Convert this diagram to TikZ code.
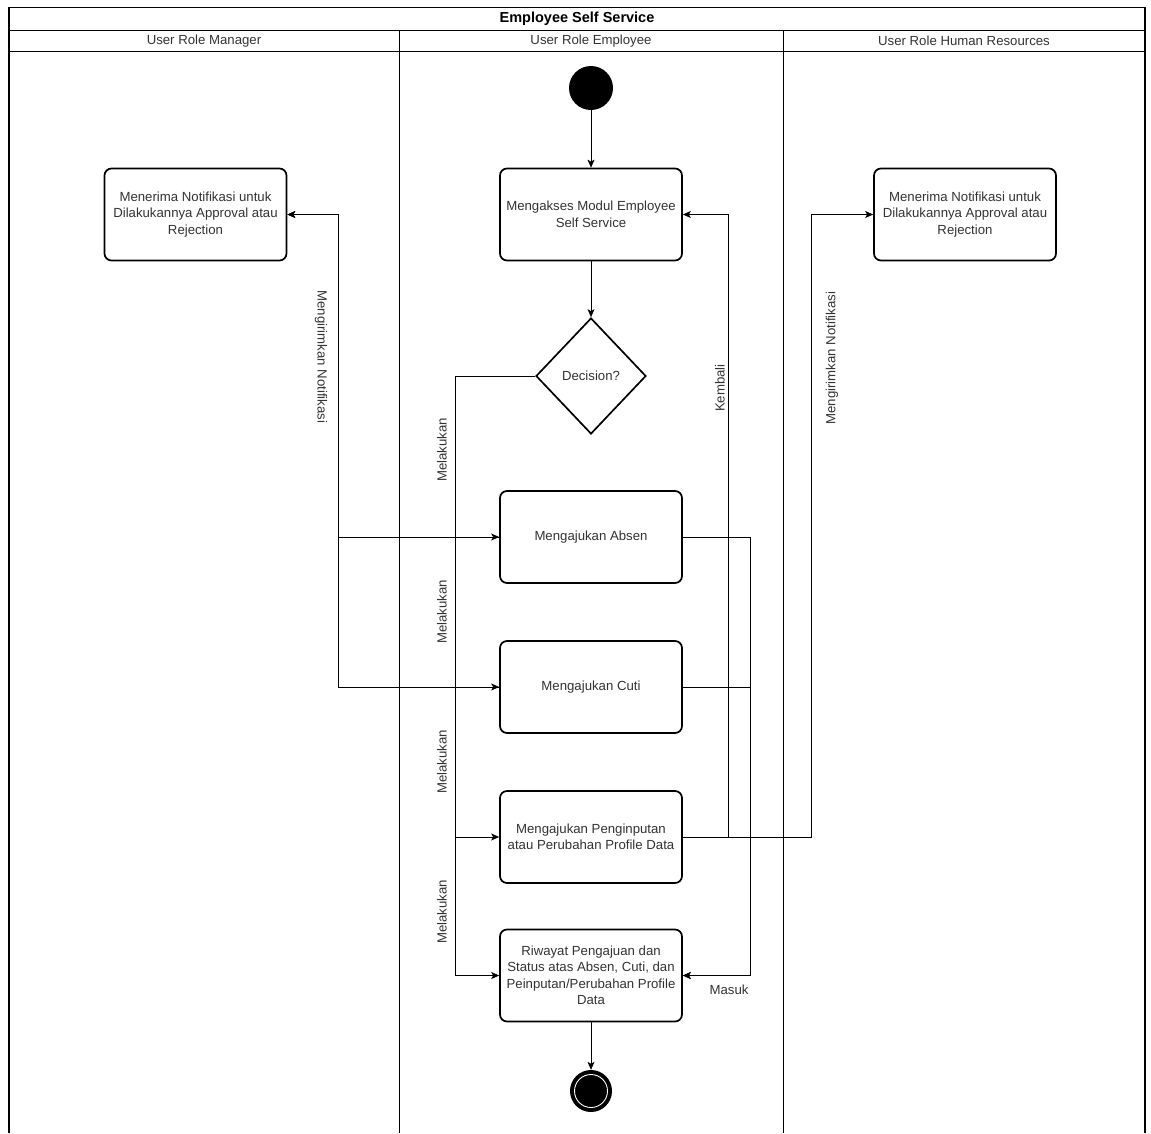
\documentclass[tikz,border=0pt]{standalone}
\usepackage{fontspec}
\setmainfont{Liberation Sans}
\usetikzlibrary{arrows.meta,shapes.geometric}
\definecolor{txtgray}{HTML}{333333}
\begin{document}
\begin{tikzpicture}[x=1pt,y=-1pt,
  txt/.style={font=\fontsize{13.2}{16.5}\selectfont, text=txtgray},
  act/.style={txt, draw=black, line width=1.7pt, rounded corners=7pt, fill=white,
    minimum width=182pt, minimum height=92pt, align=center, inner sep=2pt},
  flow/.style={draw=black, line width=0.8pt, -{Stealth[length=8pt,width=7pt,inset=2pt]}},
  ln/.style={draw=black, line width=0.8pt},
  lane/.style={draw=black, line width=0.8pt},
  lbl/.style={txt, inner sep=1pt}
]
\useasboundingbox (0,0) rectangle (1151,1133);
\fill[white] (0,0) rectangle (1151,1133);

% pool frame
\draw[lane, line width=1.2pt] (9,1133) -- (9,7.5) -- (1145,7.5) -- (1145,1133);
\draw[lane] (9,30.5) -- (1145,30.5);
\draw[lane] (9,51.5) -- (1145,51.5);
\draw[lane] (399,30.5) -- (399,1133);
\draw[lane] (783.5,30.5) -- (783.5,1133);
\node[font=\bfseries\fontsize{14.5}{16}\selectfont, text=black] (title) at (577,19) {Employee Self Service};
\node[txt] (h1) at (204,41) {User Role Manager};
\node[txt] (h2) at (591,41) {User Role Employee};
\node[txt] (h3) at (964,41) {User Role Human Resources};

% nodes
\node[circle, fill=black, minimum size=44pt, inner sep=0pt] (start) at (591,88) {};
\node[act] (akses) at (591,214.5) {Mengakses Modul Employee\\Self Service};
\node[txt, diamond, draw=black, line width=1.7pt, fill=white, minimum width=110pt, minimum height=116pt, inner sep=0pt] (dec) at (591,376) {Decision?};
\node[act] (absen) at (591,537) {Mengajukan Absen};
\node[act] (cuti) at (591,687) {Mengajukan Cuti};
\node[act] (input) at (591,837) {Mengajukan Penginputan\\atau Perubahan Profile Data};
\node[act] (riwayat) at (591,975.5) {Riwayat Pengajuan dan\\Status atas Absen, Cuti, dan\\Peinputan/Perubahan Profile\\Data};
\node[act] (mgr) at (195.5,214.5) {Menerima Notifikasi untuk\\Dilakukannya Approval atau\\Rejection};
\node[act] (hr) at (965,214.5) {Menerima Notifikasi untuk\\Dilakukannya Approval atau\\Rejection};
\node[circle, fill=black, minimum size=42pt, inner sep=0pt] (end) at (591,1091) {};
\draw[white, line width=0.9pt] (end.center) circle (16.5pt);

% routing points
\coordinate (lx) at (455,376);
\coordinate (mx) at (338,214.5);
\coordinate (kx) at (728,214.5);
\coordinate (rx) at (750,975.5);
\coordinate (hx) at (811,214.5);

% manager notifications
\draw[flow] (absen.west) -| (mx) -- (mgr.east);
\draw[flow] (cuti.west) -| (mx) -- (mgr.east);
\node[lbl, rotate=-90] (lblm) at (321,357) {Mengirimkan Notifikasi};

% decision branches
\draw[flow] (dec.west) -- (lx) |- (absen.west);
\draw[flow] (dec.west) -- (lx) |- (cuti.west);
\draw[flow] (dec.west) -- (lx) |- (input.west);
\draw[flow] (dec.west) -- (lx) |- (riwayat.west);
\node[lbl, rotate=90] (m1) at (442,450) {Melakukan};
\node[lbl, rotate=90] (m2) at (442,612) {Melakukan};
\node[lbl, rotate=90] (m3) at (442,762) {Melakukan};
\node[lbl, rotate=90] (m4) at (442,912) {Melakukan};

% main flow
\draw[flow] (start) -- (akses);
\draw[flow] (akses) -- (dec);
\draw[flow] (riwayat) -- (end);

% kembali
\draw[flow] (input.east) -| (kx) -- (akses.east);
\node[lbl, rotate=90] (lk) at (720,388) {Kembali};

% masuk
\draw[flow] (absen.east) -| (rx) -- (riwayat.east);
\draw[flow] (cuti.east) -| (rx) -- (riwayat.east);
\node[lbl] (lms) at (729,990) {Masuk};

% HR notification
\draw[flow] (input.east) -| (hx) -- (hr.west);
\node[lbl, rotate=90] (lh) at (832,358) {Mengirimkan Notifikasi};
\end{tikzpicture}
\end{document}
